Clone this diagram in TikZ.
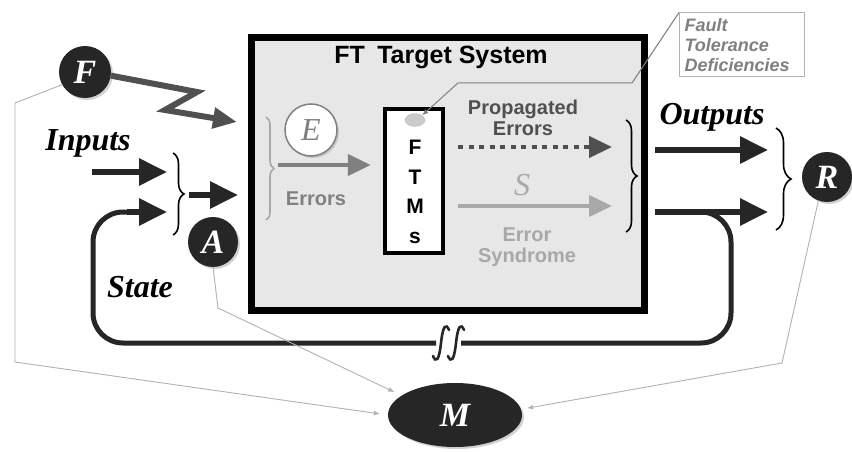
\documentclass[tikz,border=0pt]{standalone}
\usepackage{fontspec}
\setmainfont{Liberation Serif}
\setsansfont{Liberation Sans}
\usepackage{tikz}
\usetikzlibrary{arrows.meta,positioning,calc,shapes.geometric,decorations.pathreplacing,shadows}
\definecolor{FTBox}{RGB}{231,231,231}
\definecolor{FTDark}{RGB}{38,38,38}
\definecolor{FTMid}{RGB}{80,80,80}
\definecolor{FTGray}{RGB}{128,128,128}
\definecolor{FTLight}{RGB}{168,168,168}
\definecolor{FTThin}{RGB}{178,178,178}

\begin{document}
\begin{tikzpicture}[x=1pt,y=-1pt,
  agent/.style={circle,fill=FTDark,text=white,minimum size=50pt,inner sep=0pt,
                font=\fontsize{34}{34}\selectfont\bfseries\itshape,
                drop shadow={shadow xshift=2pt,shadow yshift=-2pt,opacity=.35}},
  flow/.style={font=\fontsize{32}{32}\selectfont\bfseries\itshape},
  txt/.style={font=\sffamily\bfseries\fontsize{20}{21}\selectfont,align=center},
  bigarrow/.style={-{Triangle[length=28pt,width=26pt]},line width=6pt,draw=FTDark},
  inarrow/.style={-{Triangle[length=23pt,width=21pt]},line width=4.5pt},
  probe/.style={-{Latex[length=6pt,width=5pt]},line width=0.9pt,draw=FTThin},
  brc/.style={decorate,decoration={brace,amplitude=#1},line width=1.6pt},
  feedback/.style={line width=5pt,draw=FTDark,rounded corners=30pt},
  cutmark/.style={line width=2.6pt,draw=FTDark,line cap=round}
]
\fill[white] (0,0) rectangle (852,452);
\useasboundingbox (0,0) rectangle (852,452);

% target system and mechanisms
\node[draw=black,line width=7pt,fill=FTBox,minimum width=393pt,minimum height=272pt,
      drop shadow={shadow xshift=3pt,shadow yshift=-3pt,opacity=.3}] (sys) at (448,174) {};
\node[font=\sffamily\bfseries\fontsize{25}{25}\selectfont] (title) at (441,57) {FT\enspace Target System};
\node[draw=black,line width=4.5pt,fill=white,minimum width=58pt,minimum height=144pt,
      drop shadow={shadow xshift=2pt,shadow yshift=-2pt,opacity=.3}] (ftms) at (414,181) {};
\node[font=\sffamily\bfseries\fontsize{21}{29.5}\selectfont,align=center] (ftmslbl) at (415,192) {F\\T\\M\\s};
\node[ellipse,draw=FTGray,densely dotted,fill=FTLight!60,minimum width=20pt,minimum height=13pt,inner sep=0pt] (icon) at (415,120) {};
\node[draw=FTThin,line width=1pt,text width=115pt,inner xsep=5pt,minimum height=64pt,align=left,text=FTGray,
      font=\sffamily\bfseries\itshape\fontsize{18}{20}\selectfont] (ftd) at (742,45) {Fault\\Tolerance\\Deficiencies};
\coordinate (ftd1) at (632,83);
\coordinate (ftd2) at (458,83);
\draw[FTGray,line width=1pt,-{Latex[length=6pt,width=5pt]}] (ftd.north west) -- (ftd1) -- (ftd2) -- (icon.north east);

% agents
\node[agent,minimum size=52pt] (F) at (85,72) {F};
\node[agent] (A) at (213,242) {A};
\node[agent] (R) at (827,177) {R};
\node[agent,ellipse,minimum width=134pt,minimum height=64pt] (M) at (455,415) {M};
\node[circle,draw=FTGray,line width=1.5pt,fill=white,minimum size=52pt,inner sep=0pt,text=FTGray,
      font=\fontsize{32}{32}\selectfont\itshape,
      drop shadow={shadow xshift=2pt,shadow yshift=-2pt,opacity=.3}] (E) at (311,130) {E};

% inputs and state
\node[flow] (inputs) at (88,143) {Inputs};
\node[flow] (state) at (140,287) {State};
\coordinate (in0) at (92,172);
\coordinate (in1) at (167,172);
\coordinate (st1) at (167,212);
\coordinate (mrg0) at (189,195);
\coordinate (mrg1) at (238,195);
\draw[bigarrow] (in0) -- (in1);
\draw[brc=11pt] (173,153) -- (173,235);
\draw[bigarrow] (mrg0) -- (mrg1);
\coordinate (zz1) at (197,92);
\coordinate (zz2) at (165,110);
\coordinate (zz3) at (237,122);
\draw[-{Triangle[length=24pt,width=20pt]},line width=6pt,draw=FTMid,line join=miter] (F.-8) -- (zz1) -- (zz2) -- (zz3);

% inside the box
\draw[brc=8pt,draw=FTLight] (266,117) -- (266,220);
\coordinate (err0) at (278,165);
\draw[inarrow,draw=FTGray,shorten >=12pt] (err0) -- (err0 -| ftms.west);
\node[txt,text=FTGray] (errlbl) at (316,199) {Errors};
\node[txt,text=FTMid] (proplbl) at (523,118) {Propagated\\Errors};
\coordinate (prop0) at (458,147);
\coordinate (prop1) at (612,147);
\draw[inarrow,draw=FTMid,dash pattern=on 5pt off 5.5pt,-{Triangle[length=23pt,width=21pt,sep=0pt]}] (prop0) -- (prop1);
\node[text=FTLight,font=\fontsize{32}{32}\selectfont\itshape] (S) at (522,185) {S};
\coordinate (syn0) at (458,206);
\coordinate (syn1) at (612,206);
\draw[inarrow,draw=FTLight,line width=4pt] (syn0) -- (syn1);
\node[txt,text=FTLight] (synlbl) at (527,247) {Error\\Syndrome};
\draw[brc=11pt] (626,120) -- (626,232);

% outputs and feedback
\node[flow] (outputs) at (712,117) {Outputs};
\coordinate (out1a) at (655,150);
\coordinate (out1b) at (768,150);
\coordinate (out2a) at (655,212);
\coordinate (out2b) at (768,212);
\draw[bigarrow] (out1a) -- (out1b);
\draw[bigarrow] (out2a) -- (out2b);
\draw[brc=15pt] (776,128) -- (776,230);
\coordinate (fb0) at (700,212);
\coordinate (fb1) at (731,212);
\coordinate (fb2) at (731,343);
\coordinate (cut0) at (461,343);
\coordinate (cut1) at (436,343);
\coordinate (fb3) at (93,343);
\coordinate (fb4) at (93,212);
\draw[feedback] (fb0) -- (fb1) -- (fb2) -- (cut0);
\draw[feedback] (cut1) -- (fb3) -- (fb4) -- ($(st1)+(-20,0)$);
\draw[bigarrow] ($(st1)+(-40,0)$) -- (st1);
% break mark on the feedback line
\foreach \cx in {441,456}
  \draw[cutmark] (\cx-8,356) .. controls (\cx-5,363) and (\cx-2,361) .. (\cx,343)
                 .. controls (\cx+2,325) and (\cx+5,323) .. (\cx+8,330);

% monitoring lines
\coordinate (pf1) at (15,103);
\coordinate (pf2) at (15,362);
\coordinate (pa1) at (218,308);
\coordinate (pr1) at (782,363);
\draw[probe,shorten >=8pt] (F.209) -- (pf1) -- (pf2) -- (M.west);
\draw[probe,shorten >=8pt] (A.south) -- (pa1) -- (M.160);
\draw[probe,shorten >=6pt] (R.250) -- (pr1) -- (M.5);
\end{tikzpicture}
\end{document}
